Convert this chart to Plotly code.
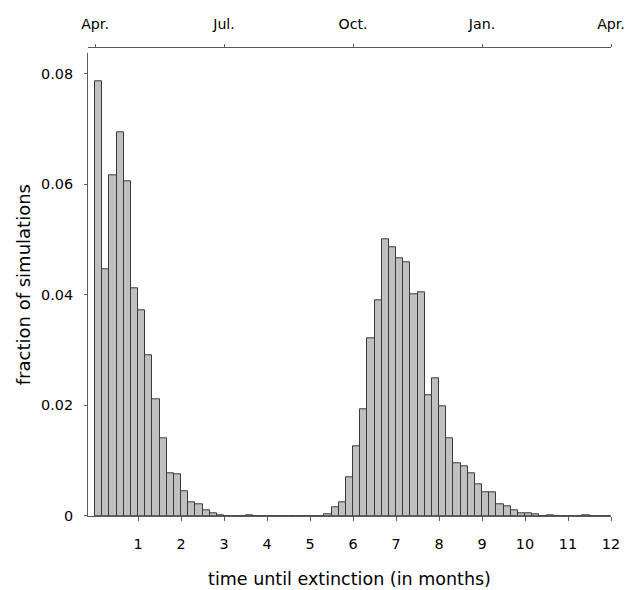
import numpy as np
import plotly.graph_objects as go

# Histogram: fraction of simulations per bin of 1/6 month, from 0 to 12 months
bin_width = 1 / 6
fractions = [
    0.0787, 0.0447, 0.0616, 0.0695, 0.0605, 0.0412,   # 0-1
    0.0372, 0.0291, 0.0212, 0.0140, 0.0077, 0.0075,   # 1-2
    0.0044, 0.0025, 0.0022, 0.0011, 0.0005, 0.0002,   # 2-3
    0.0, 0.0, 0.0, 0.0002, 0.0, 0.0,                   # 3-4
    0.0, 0.0, 0.0, 0.0, 0.0, 0.0,                      # 4-5
    0.0, 0.0, 0.0003, 0.0016, 0.0024, 0.0070,          # 5-6
    0.0127, 0.0193, 0.0322, 0.0391, 0.0500, 0.0487,    # 6-7
    0.0467, 0.0459, 0.0401, 0.0404, 0.0219, 0.0250,    # 7-8
    0.0199, 0.0141, 0.0095, 0.0090, 0.0078, 0.0057,    # 8-9
    0.0042, 0.0042, 0.0022, 0.0018, 0.0011, 0.0005,    # 9-10
    0.0005, 0.0003, 0.0, 0.0002, 0.0, 0.0,             # 10-11
    0.0, 0.0, 0.0002, 0.0, 0.0, 0.0,                   # 11-12
]
bin_starts = np.arange(len(fractions)) * bin_width

x_ticks = list(range(1, 13))
y_ticks = [0, 0.02, 0.04, 0.06, 0.08]
y_ticklabels = ["0", "0.02", "0.04", "0.06", "0.08"]
month_ticks = [0, 3, 6, 9, 12]
month_labels = ["Apr.", "Jul.", "Oct.", "Jan.", "Apr."]

FONT = "DejaVu Sans"
AXIS_COLOR = "#5a5a5a"

fig = go.Figure()
fig.add_trace(go.Bar(
    x=bin_starts + bin_width / 2,
    y=fractions,
    width=bin_width,
    marker=dict(color="#c0c0c0", line=dict(color="#3a3a3a", width=1)),
    showlegend=False,
    hoverinfo="x+y",
))
# invisible trace to attach the top (month) axis
fig.add_trace(go.Scatter(x=[0, 12], y=[None, None], xaxis="x2", yaxis="y",
                         mode="markers", showlegend=False, hoverinfo="skip"))

W, H = 635, 590
left, right_px, top_line, plot_top, bottom_px = 88, 610.7, 46.7, 53, 516
paper_h = bottom_px - top_line

fig.update_layout(
    template="none",
    width=W, height=H,
    margin=dict(l=left, r=W - right_px, t=top_line, b=H - bottom_px, pad=0),
    paper_bgcolor="white", plot_bgcolor="white",
    font=dict(family=FONT, size=14.4, color="#000000"),
    bargap=0,
    xaxis=dict(
        range=[-7 / 42.9, 12], tickvals=x_ticks, ticktext=[str(t) for t in x_ticks],
        showline=True, linecolor=AXIS_COLOR, linewidth=1,
        ticks="outside", ticklen=4, tickcolor=AXIS_COLOR,
        showgrid=False, zeroline=False, automargin=False,
        ticklabelstandoff=11,
        tickfont=dict(size=14.4),
        title=dict(text="time until extinction (in months)", font=dict(size=17.5), standoff=21),
        anchor="y",
    ),
    xaxis2=dict(
        range=[-7 / 42.9, 12], overlaying="x", side="top", anchor="free", position=1,
        tickvals=month_ticks, ticktext=month_labels,
        showline=True, linecolor=AXIS_COLOR, linewidth=1,
        ticks="outside", ticklen=3, tickcolor=AXIS_COLOR,
        showgrid=False, zeroline=False, automargin=False,
        ticklabelstandoff=9,
        tickfont=dict(size=14.2),
    ),
    yaxis=dict(
        range=[0, (bottom_px - plot_top) / 5531],
        domain=[0, (bottom_px - plot_top) / paper_h],
        tickvals=y_ticks, ticktext=y_ticklabels,
        showline=True, linecolor=AXIS_COLOR, linewidth=1,
        ticks="outside", ticklen=3, tickcolor=AXIS_COLOR,
        showgrid=False, zeroline=False, automargin=False,
        ticklabelstandoff=8,
        tickfont=dict(size=14.4),
        title=dict(text="fraction of simulations", font=dict(size=18), standoff=5),
    ),
)

fig.write_html("out.html", config={"displayModeBar": False},
               post_script="document.body.style.margin='0';")
